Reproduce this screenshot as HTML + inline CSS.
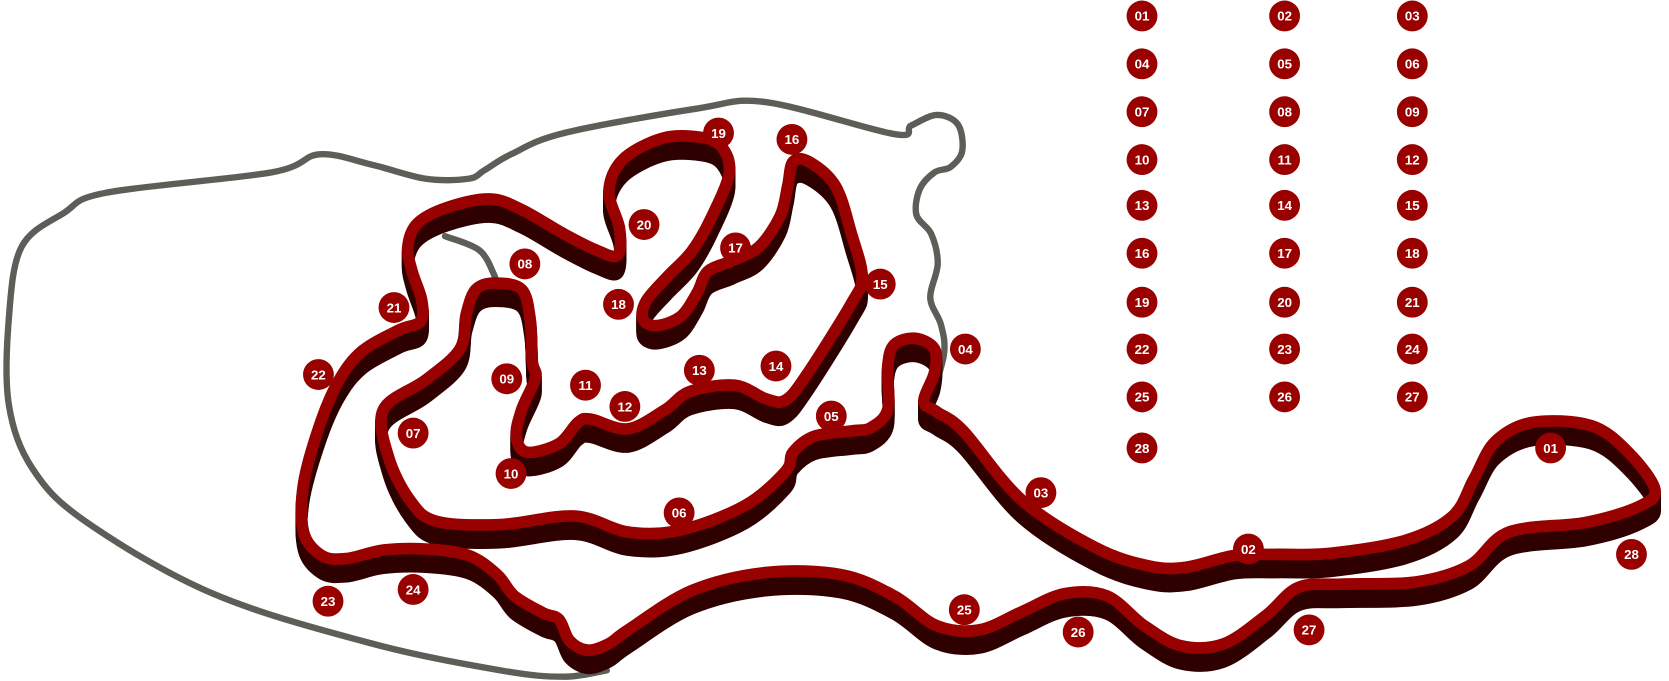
<!DOCTYPE html>
<html><head><meta charset="utf-8">
<style>
html,body{margin:0;padding:0;background:#fff;}
svg{display:block;}
text{font-family:"Liberation Sans",sans-serif;font-weight:bold;font-size:12.5px;fill:#fff;text-anchor:middle;}
</style></head>
<body>
<svg id="s" width="1669" height="681" viewBox="0 0 1568 640" xmlns="http://www.w3.org/2000/svg">
<g id="grey" fill="none" stroke="#5e5e58" stroke-width="6" stroke-linecap="round" stroke-linejoin="round"></g>
<g id="shadow" fill="none" stroke="#2e0000" stroke-width="11" stroke-linejoin="round"></g>
<g id="red" fill="none" stroke="#990000" stroke-width="11" stroke-linejoin="round"></g>
<g id="labels"></g>
</svg>
<script>
function cr(p,closed){
  var n=p.length,d="M"+p[0][0]+","+p[0][1];
  var last=closed?n:n-1;
  for(var i=0;i<last;i++){
    var p0=p[(i-1+n)%n],p1=p[i],p2=p[(i+1)%n],p3=p[(i+2)%n];
    if(!closed){ if(i==0)p0=p1; if(i+2>=n)p3=p2; }
    var c1=[p1[0]+(p2[0]-p0[0])/6,p1[1]+(p2[1]-p0[1])/6];
    var c2=[p2[0]-(p3[0]-p1[0])/6,p2[1]-(p3[1]-p1[1])/6];
    d+=" C"+c1[0].toFixed(1)+","+c1[1].toFixed(1)+" "+c2[0].toFixed(1)+","+c2[1].toFixed(1)+" "+p2[0]+","+p2[1];
  }
  if(closed)d+="Z";
  return d;
}
var NS="http://www.w3.org/2000/svg";
function add(g,d,attrs){var e=document.createElementNS(NS,"path");e.setAttribute("d",d);for(var k in attrs)e.setAttribute(k,attrs[k]);document.getElementById(g).appendChild(e);}
var track=[[1555,460],[1530,425],[1495,400],[1440,397],[1405,415],[1385,450],[1365,485],[1320,508],[1250,520],[1200,521],[1160,522],[1115,533],[1080,532],[1030,515],[960,470],[905,405],[880,387],[868,377],[878,350],[878,328],[860,318],[840,324],[834,345],[834,385],[818,402],[800,405],[765,410],[745,425],[738,443],[700,475],[640,498],[590,500],[540,485],[470,493],[410,490],[385,470],[365,430],[360,385],[400,357],[432,328],[438,295],[447,272],[465,266],[490,272],[498,300],[500,340],[503,355],[490,385],[485,410],[495,425],[525,417],[543,397],[555,394],[590,403],[625,385],[648,368],[690,362],[720,375],[738,376],[758,352],[800,285],[810,260],[800,220],[785,175],[760,152],[745,152],[740,175],[733,203],[713,232],[688,245],[665,255],[655,275],[640,297],[617,306],[604,300],[607,283],[627,260],[650,236],[668,205],[685,163],[678,138],[658,129],[622,130],[585,150],[572,180],[582,215],[580,240],[560,235],[530,220],[490,197],[460,187],[420,195],[392,210],[383,232],[387,255],[396,282],[395,302],[375,310],[340,330],[318,358],[300,400],[285,455],[285,500],[302,522],[325,525],[360,517],[400,516],[440,522],[467,540],[483,560],[510,576],[525,582],[535,602],[552,611],[572,605],[590,592],[650,555],[720,538],[790,540],[840,560],[880,588],[920,592],[960,575],[1000,558],[1040,560],[1075,588],[1110,607],[1150,605],[1190,578],[1220,552],[1260,549],[1330,547],[1380,532],[1418,500],[1490,491],[1540,476]];
var d=cr(track,true);
for(var o=17;o>=1;o-=1.5) add("shadow",d,{transform:"translate(0,"+o+")"});
add("red",d,{});
var grey=[[570,630],[530,636],[470,630],[350,605],[200,558],[80,490],[30,440],[8,380],[8,300],[20,232],[60,200],[100,181],[255,162],[300,145],[350,155],[400,168],[440,168],[455,160],[480,145],[530,125],[655,102],[720,96],[840,126],[856,118],[880,108],[900,117],[904,142],[893,157],[878,162],[864,178],[861,202],[875,220],[881,248],[874,280],[884,305],[887,332],[876,372]];
add("grey",cr(grey,false),{});
add("grey",cr([[418,222],[450,235],[464,258],[465,265]],false),{});
var L=[["01",1073,15],["02",1207,15],["03",1327,15],["04",1073,60],["05",1207,60],["06",1327,60],["07",1073,105],["08",1207,105],["09",1327,105],["10",1073,150],["11",1207,150],["12",1327,150],["13",1073,193],["14",1207,193],["15",1327,193],["16",1073,238],["17",1207,238],["18",1327,238],["19",1073,284],["20",1207,284],["21",1327,284],["22",1073,328],["23",1207,328],["24",1327,328],["25",1073,373],["26",1207,373],["27",1327,373],["28",1073,421],
["01",1457,421],["02",1173,516],["03",978,463],["04",907,328],["05",781,391],["06",638,482],["07",388,407],["08",493,248],["09",476,356],["10",480,445],["11",550,362],["12",587,382],["13",657,348],["14",729,344],["15",827,267],["16",744,131],["17",691,233],["18",581,286],["19",675,125],["20",605,211],["21",370,289],["22",299,352],["23",308,565],["24",388,554],["25",906,573],["26",1013,594],["27",1230,592],["28",1533,521]];
var lg=document.getElementById("labels");
L.forEach(function(l){
  var c=document.createElementNS(NS,"circle");c.setAttribute("cx",l[1]);c.setAttribute("cy",l[2]);c.setAttribute("r",14.5);c.setAttribute("fill","#990000");lg.appendChild(c);
  var t=document.createElementNS(NS,"text");t.setAttribute("x",l[1]);t.setAttribute("y",l[2]+4.5);t.textContent=l[0];lg.appendChild(t);
});
</script>
</body></html>
